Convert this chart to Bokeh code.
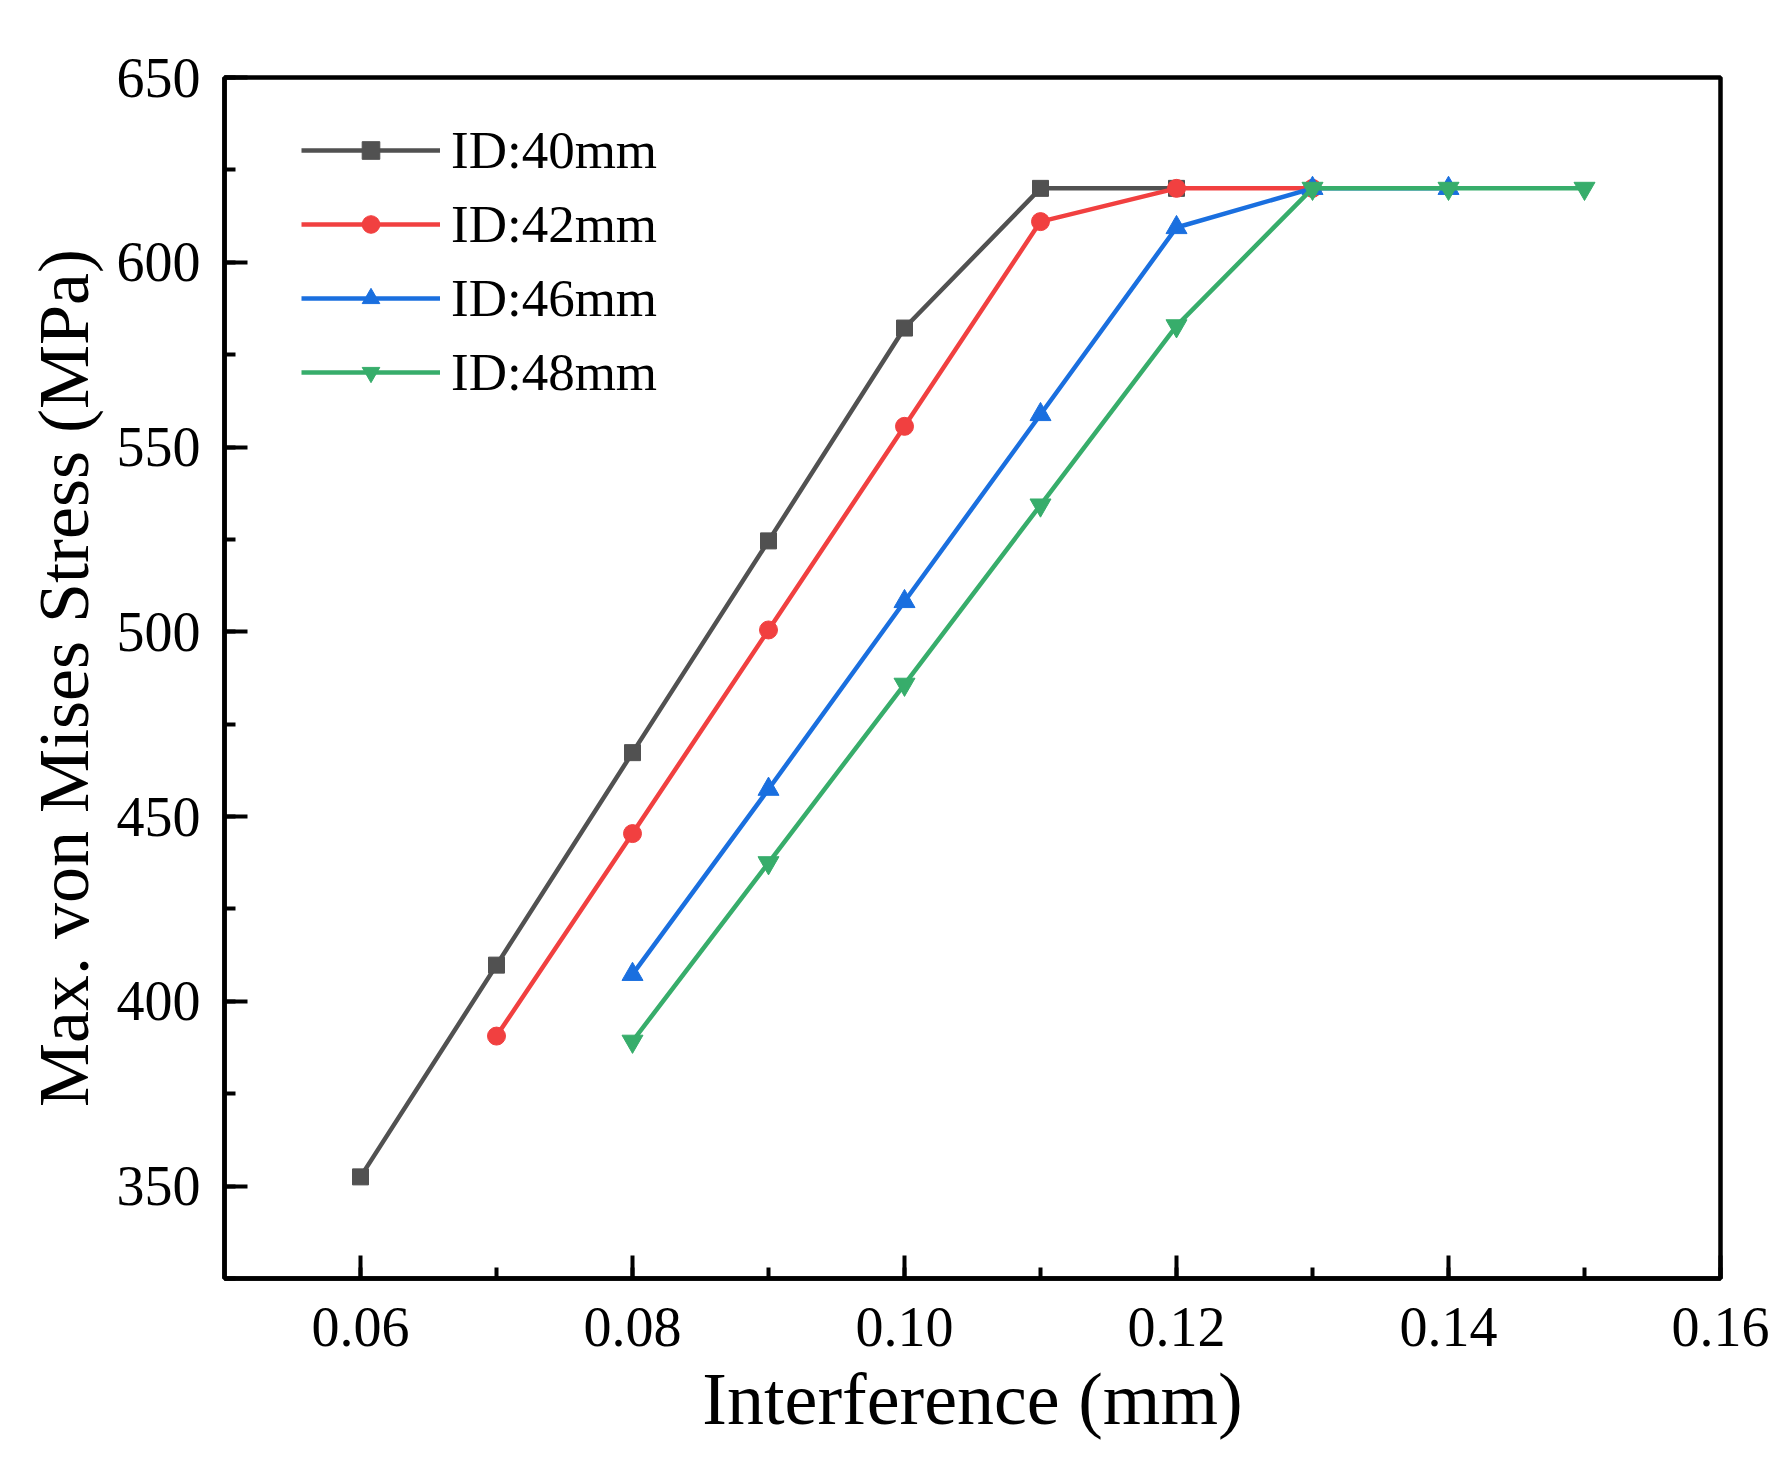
from bokeh.plotting import figure
from bokeh.models import (Range1d, SingleIntervalTicker, PrintfTickFormatter,
                          Legend, LegendItem)
from bokeh.embed import file_html
from bokeh.resources import INLINE

# ---- data ----
x40 = [0.06, 0.07, 0.08, 0.09, 0.10, 0.11, 0.12]
y40 = [352.5, 409.8, 467.3, 524.6, 582.2, 620.0, 620.0]

x42 = [0.07, 0.08, 0.09, 0.10, 0.11, 0.12, 0.13]
y42 = [390.6, 445.4, 500.5, 555.6, 611.0, 620.0, 620.0]

x46 = [0.08, 0.09, 0.10, 0.11, 0.12, 0.13, 0.14]
y46 = [407.3, 457.4, 508.2, 558.8, 609.4, 620.0, 620.0]

x48 = [0.08, 0.09, 0.10, 0.11, 0.12, 0.13, 0.14, 0.15]
y48 = [389.2, 437.5, 485.8, 534.3, 582.8, 620.0, 620.0, 620.0]

labels = ["ID:40mm", "ID:42mm", "ID:46mm", "ID:48mm"]
colors = ["#515151", "#F14040", "#1A6FDF", "#37AD6B"]
markers = ["square", "circle", "triangle", "inverted_triangle"]
msizes = [16, 18, 21, 21]

FONT = "Liberation Serif"

p = figure(width=1776, height=1454, output_backend="svg", toolbar_location=None,
           x_range=Range1d(0.05, 0.16), y_range=Range1d(325, 650),
           min_border_left=224, min_border_top=77, min_border_right=56,
           min_border_bottom=176)

p.background_fill_color = "white"
p.border_fill_color = "white"
p.grid.visible = False
p.outline_line_color = "black"
p.outline_line_width = 4.5

renderers = []
for xs, ys, c, m, s in zip([x40, x42, x46, x48], [y40, y42, y46, y48], colors, markers, msizes):
    ln = p.line(xs, ys, line_color=c, line_width=4.5)
    sc = p.scatter(xs, ys, marker=m, size=s, fill_color=c, line_color=c)
    renderers.append([ln, sc])

p.xaxis.ticker = SingleIntervalTicker(interval=0.02, num_minor_ticks=2)
p.yaxis.ticker = SingleIntervalTicker(interval=50, num_minor_ticks=2)
p.xaxis.formatter = PrintfTickFormatter(format="%.2f")

for ax in (p.xaxis[0], p.yaxis[0]):
    ax.axis_line_width = 4.5
    ax.axis_line_color = "black"
    ax.major_tick_line_width = 4
    ax.minor_tick_line_width = 4
    ax.major_tick_in = 23
    ax.major_tick_out = 0
    ax.minor_tick_in = 11
    ax.minor_tick_out = 0
    ax.major_label_text_font = FONT
    ax.major_label_text_font_size = "56px"
    ax.major_label_text_color = "black"
    ax.axis_label_text_font = FONT
    ax.axis_label_text_font_style = "normal"
    ax.axis_label_text_color = "black"

p.xaxis.axis_label = "Interference (mm)"
p.yaxis.axis_label = "Max. von Mises Stress (MPa)"
p.xaxis.axis_label_text_font_size = "74px"
p.yaxis.axis_label_text_font_size = "72px"
p.xaxis.major_label_standoff = 29
p.yaxis.major_label_standoff = 24
p.xaxis.axis_label_standoff = 9
p.yaxis.axis_label_standoff = 10

items = [LegendItem(label=l, renderers=r) for l, r in zip(labels, renderers)]
legend = Legend(items=items, location=(77, 876), orientation="vertical",
                glyph_width=139, glyph_height=44, label_height=44,
                label_standoff=11, spacing=14, padding=0, margin=0,
                label_text_font=FONT, label_text_font_size="53px",
                label_text_color="black",
                border_line_color=None, background_fill_alpha=0)
p.add_layout(legend)

open("out.html", "w").write(file_html(p, INLINE))
